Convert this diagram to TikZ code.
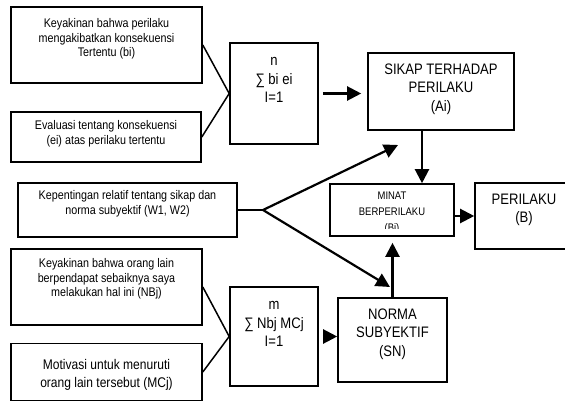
\documentclass[tikz,border=0pt]{standalone}
\usepackage{fontspec}
\setmainfont{Liberation Sans}[FakeStretch=0.86]
\usetikzlibrary{arrows.meta,calc}

\newcommand{\kecil}{\fontsize{12.5}{14.5}\selectfont}
\newcommand{\besar}{\fontsize{15.2}{18.5}\selectfont}
\newcommand{\sedang}{\fontsize{14}{18.5}\selectfont}
\newcommand{\minatfont}{\fontsize{11}{16}\selectfont}

\begin{document}
\begin{tikzpicture}[x=1pt,y=-1pt,
    kotak/.style={draw,line width=1.6pt,inner sep=0pt},
    teks/.style={align=center,inner sep=0pt},
    garis/.style={line width=1.5pt},
    panah/.style={line width=2.2pt,-{Triangle[length=14pt,width=14pt]}}]
    \useasboundingbox (0,0) rectangle (565,404);
    \clip (0,0) rectangle (565,404);

    % Kotak sebelah kiri
    \node[kotak,minimum width=191pt,minimum height=76pt] (keya) at (106.5,45) {};
    \node[teks,font=\kecil] at (106.5,39) {Keyakinan bahwa perilaku\\mengakibatkan konsekuensi\\Tertentu (bi)};
    \node[kotak,minimum width=190pt,minimum height=50pt] (eval) at (106,137) {};
    \node[teks,font=\kecil] at (106,134) {Evaluasi tentang konsekuensi\\(ei) atas perilaku tertentu};
    \node[kotak,minimum width=219pt,minimum height=54pt] (penting) at (127.5,210) {};
    \node[teks,font=\kecil] at (127.5,204) {Kepentingan relatif tentang sikap dan\\norma subyektif (W1, W2)};
    \node[kotak,minimum width=191pt,minimum height=76pt] (keyb) at (106.5,287) {};
    \node[teks,font=\kecil] at (106.5,279) {Keyakinan bahwa orang lain\\berpendapat sebaiknya saya\\melakukan hal ini (NBj)};
    \node[kotak,minimum width=191pt,minimum height=57pt] (motiv) at (106.5,372) {};
    \node[teks,font=\sedang] at (106.5,375) {Motivasi untuk menuruti\\orang lain tersebut (MCj)};

    % Kotak jumlah
    \node[kotak,minimum width=88pt,minimum height=101pt] (jumA) at (274,93.5) {};
    \node[teks,font=\besar] at (274,80) {n\\∑ bi ei\\I=1};
    \node[kotak,minimum width=88pt,minimum height=99pt] (jumB) at (274,336.5) {};
    \node[teks,font=\besar] at (274,324) {m\\∑ Nbj MCj\\I=1};

    % Kotak kanan
    \node[kotak,minimum width=146pt,minimum height=77pt] (sikap) at (441,91.5) {};
    \node[teks,font=\besar] at (441,89) {SIKAP TERHADAP\\PERILAKU\\(Ai)};
    \node[kotak,minimum width=109pt,minimum height=84pt] (norma) at (392.5,340) {};
    \node[teks,font=\besar] at (392.5,334) {NORMA\\SUBYEKTIF\\(SN)};
    \node[kotak,minimum width=124pt,minimum height=52pt,
        path picture={
            \clip ([yshift=7.5pt]path picture bounding box.south west) rectangle (path picture bounding box.north east);
            \node[teks,font=\minatfont] at ([yshift=-3pt]path picture bounding box.center) {MINAT\\BERPERILAKU\\(Bi)};
        }] (minat) at (392,210) {};
    \node[kotak,minimum width=91pt,minimum height=66pt] (perilaku) at (520.5,216) {};
    \node[teks,font=\besar] at (524,210) {PERILAKU\\(B)};

    % Garis masuk ke kotak jumlah
    \draw[garis] (keya.east) -- (jumA.west);
    \draw[garis] (eval.east) -- (jumA.west);
    \draw[garis] (keyb.east) -- (jumB.west);
    \draw[garis] (motiv.east) -- (jumB.west);

    % Panah
    \draw[panah,shorten <=4pt,shorten >=6pt] (jumA.east) -- (sikap.west |- jumA.east);
    \draw[panah] ([xshift=-19pt]sikap.south) -- ([xshift=-19pt]sikap.south |- minat.north);
    \draw[panah] (minat.east |- perilaku.west) -- (perilaku.west);
    \draw[panah,shorten <=4pt] (jumB.east) -- (norma.west |- jumB.east);
    \draw[panah,shorten >=6pt] (norma.north) -- (norma.north |- minat.south);

    % Cabang bobot W1, W2
    \coordinate (cabang) at (263,210);
    \coordinate (ujungA) at (398,145);
    \coordinate (ujungB) at (390,287);
    \draw[garis] (penting.east) -- (cabang);
    \draw[panah] (cabang) -- (ujungA);
    \draw[panah] (cabang) -- (ujungB);
\end{tikzpicture}
\end{document}
